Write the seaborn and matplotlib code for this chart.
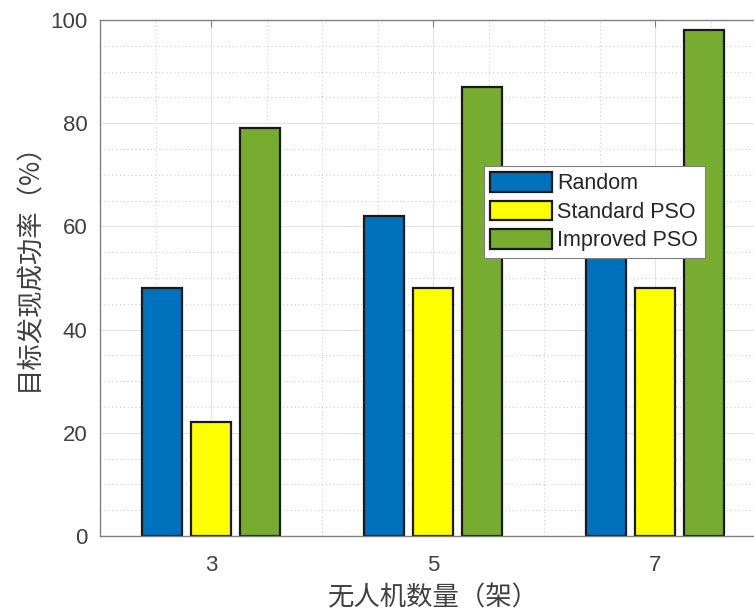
import numpy as np
import pandas as pd
import matplotlib
matplotlib.use("Agg")
import matplotlib.pyplot as plt
from matplotlib.patches import Patch
from matplotlib.ticker import MultipleLocator
import seaborn as sns

# data
# (Random at 7 UAVs is hidden behind the legend, so it is an estimate)
uav_counts = [3, 5, 7]
series_names = ["Random", "Standard PSO", "Improved PSO"]
random_rate = [48, 62, 66]
standard_pso_rate = [22, 48, 48]
improved_pso_rate = [79, 87, 98]
bar_colors = ["#0072BD", "#FFFF00", "#77AC30"]

y_label = "目标发现成功率（%）"
x_label = "无人机数量（架）"

df = pd.DataFrame({
    "count": uav_counts * 3,
    "method": [n for n in series_names for _ in uav_counts],
    "rate": random_rate + standard_pso_rate + improved_pso_rate,
})

sns.set_style("white")
plt.rcParams["font.family"] = ["Liberation Sans", "Noto Sans CJK SC", "DejaVu Sans"]

fig = plt.figure(figsize=(7.54, 6.13), dpi=100)
# axes runs past the right edge of the picture, like the cropped reference
ax = fig.add_axes([100 / 754, 77 / 613, 666 / 754, 516 / 613])

sns.barplot(
    data=df, x="count", y="rate", hue="method", hue_order=series_names,
    palette=bar_colors, saturation=1, native_scale=True, width=0.662, gap=0.18,
    edgecolor="#1a1a1a", linewidth=1.6, legend=False, ax=ax, zorder=2,
)

ax.set_xlim(2, 8)
ax.set_ylim(0, 100)
ax.set_xticks(uav_counts)
ax.set_xticklabels([str(c) for c in uav_counts])
ax.set_yticks(range(0, 101, 20))
ax.xaxis.set_minor_locator(MultipleLocator(0.5))
ax.yaxis.set_minor_locator(MultipleLocator(5))

ax.set_axisbelow(True)
ax.grid(which="major", color="#e3e3e3", lw=0.8)
ax.grid(which="minor", color="#c4c4c4", lw=0.7, ls=(0, (1, 3)))

ax.tick_params(which="major", direction="in", length=5, width=0.8, colors="#808080",
               labelcolor="#404040", labelsize=16, pad=9, top=True, right=True)
ax.tick_params(axis="x", which="major", pad=14)
ax.tick_params(which="minor", length=0)
for s in ax.spines.values():
    s.set_color("#808080")
    s.set_linewidth(1.0)

ax.set_xlabel(x_label, fontsize=19, color="#404040", labelpad=6,
              family=["Noto Sans CJK SC"], fontweight="light")
ax.set_ylabel(y_label, fontsize=19, color="#404040",
              family=["Noto Sans CJK SC"], fontweight="light")
ax.yaxis.set_label_coords(-0.086, 0.535)

handles = [Patch(facecolor=c, edgecolor="#1a1a1a", linewidth=1.6) for c in bar_colors]
leg = ax.legend(handles, series_names, loc="upper left", bbox_to_anchor=(384 / 666, 370 / 516),
                borderaxespad=0, fontsize=15.5, handlelength=2.85, handleheight=1.0,
                handletextpad=0.25, labelspacing=0.3, borderpad=0.3,
                frameon=True, fancybox=False, framealpha=1)
leg.get_frame().set_edgecolor("#7f7f7f")
leg.get_frame().set_linewidth(0.8)
leg.set_zorder(5)

fig.savefig("out.png", dpi=100)
